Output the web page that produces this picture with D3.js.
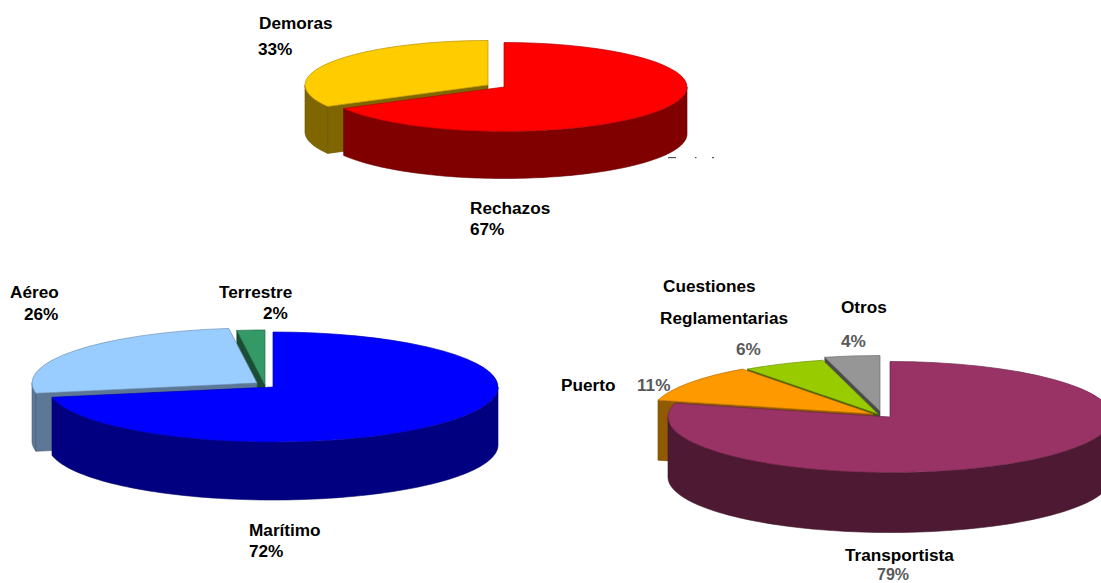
<!DOCTYPE html>
<html lang="es">
<head>
<meta charset="utf-8">
<title>Incidencias por categoría</title>
<script src="https://cdn.jsdelivr.net/npm/d3@7/dist/d3.min.js"></script>
<style>
  html, body { margin: 0; padding: 0; background: #fff; }
  svg { display: block; }
  text { font-family: "Liberation Sans", Arial, sans-serif; font-weight: bold; font-size: 17.2px; fill: #000; }
</style>
</head>
<body>
<svg id="chart" width="1101" height="583"></svg>
<script>
// Values, in percent
const causaNames = ["Rechazos", "Demoras"];
const causaValues = [67, 33];
const modoNames = ["Marítimo", "Aéreo", "Terrestre"];
const modoValues = [72, 26, 2];
const origenNames = ["Transportista", "Puerto", "Cuestiones Reglamentarias", "Otros"];
const origenValues = [79, 11, 6, 4];

// Fill colours: top face, then shaded side
const causaTops = ["#ff0000", "#ffcc00"];
const causaSides = ["#800000", "#806600"];
const modoTops = ["#0000ff", "#99ccff", "#339966"];
const modoSides = ["#000080", "#5c7896", "#1a4d33"];
const origenTops = ["#993366", "#ff9900", "#99cc00", "#969696"];
const origenSides = ["#4d1933", "#8f5a00", "#3f5a12", "#4b4b4b"];

// Pie geometry: radii, extrusion depth and the exploded centre of each slice
const causaGeom = { rx: 183, ry: 44.5, depth: 47, centers: [[504, 87], [488, 85]] };
const modoGeom = { rx: 225, ry: 55, depth: 58, centers: [[273, 387], [257, 383], [265, 385]] };
const origenGeom = { rx: 222, ry: 55.5, depth: 60, centers: [[890, 417], [873, 414], [878, 414], [880, 411]] };

const svg = d3.select("#chart");
const pie = d3.pie().sort(null).value(d => d);

// Point on the ellipse for a clockwise-from-top angle
const onRim = (g, c, a, dz = 0) => [c[0] + g.rx * Math.sin(a), c[1] - g.ry * Math.cos(a) + dz];

function drawPie(values, tops, sides, geom, order) {
  const arcs = pie(values);
  const group = svg.append("g");
  const topArc = d3.arc().innerRadius(0).outerRadius(geom.rx);
  // Back slices first so nearer slices cover their hidden faces
  order.forEach(i => {
    const s = arcs[i], c = geom.centers[i];
    const slice = group.append("g");

    // Curved outer wall: only the half of the rim facing the viewer shows
    const a0 = Math.max(s.startAngle, Math.PI / 2);
    const a1 = Math.min(s.endAngle, 3 * Math.PI / 2);
    if (a1 > a0) {
      const p = d3.path();
      const n = 96;
      const steps = d3.range(n + 1).map(k => a0 + (a1 - a0) * k / n);
      steps.forEach((a, k) => {
        const [x, y] = onRim(geom, c, a);
        k ? p.lineTo(x, y) : p.moveTo(x, y);
      });
      steps.slice().reverse().forEach(a => {
        const [x, y] = onRim(geom, c, a, geom.depth);
        p.lineTo(x, y);
      });
      p.closePath();
      slice.append("path").attr("d", p.toString())
        .attr("fill", sides[i]).attr("stroke", d3.color(sides[i]).darker(0.6)).attr("stroke-width", 0.6);
    }

    // Flat cut face along the slice's leading edge
    if (Math.sin(s.startAngle) < 0) {
      const e = onRim(geom, c, s.startAngle);
      const p = d3.path();
      p.moveTo(c[0], c[1]);
      p.lineTo(e[0], e[1]);
      p.lineTo(e[0], e[1] + geom.depth);
      p.lineTo(c[0], c[1] + geom.depth);
      p.closePath();
      slice.append("path").attr("d", p.toString())
        .attr("fill", sides[i]).attr("stroke", d3.color(sides[i]).darker(0.6)).attr("stroke-width", 0.6);
    }

    // Top face: a circular arc flattened into an ellipse
    slice.append("path")
      .attr("d", topArc(s))
      .attr("transform", `translate(${c[0]},${c[1]}) scale(1,${geom.ry / geom.rx})`)
      .attr("fill", tops[i])
      .attr("stroke", d3.color(tops[i]).darker(0.9))
      .attr("stroke-width", 0.7)
      .attr("vector-effect", "non-scaling-stroke");
  });
}

drawPie(causaValues, causaTops, causaSides, causaGeom, [1, 0]);
drawPie(modoValues, modoTops, modoSides, modoGeom, [2, 1, 0]);
drawPie(origenValues, origenTops, origenSides, origenGeom, [3, 2, 1, 0]);

// Small specks left of a masked caption beside the first pie
svg.append("g").attr("fill", "#555")
  .selectAll("rect")
  .data([[668, 8], [695, 1.5], [712, 2]])
  .join("rect")
  .attr("x", d => d[0]).attr("y", 157).attr("width", d => d[1]).attr("height", 1.2);

const pct = v => v + "%";
const label = (text, x, y, fill) =>
  svg.append("text").attr("x", x).attr("y", y).style("fill", fill || null).text(text);

// First pie
label(causaNames[1], 259, 29);
label(pct(causaValues[1]), 258, 55);
label(causaNames[0], 470, 214);
label(pct(causaValues[0]), 470, 235);

// Second pie
label(modoNames[1], 10, 298);
label(pct(modoValues[1]), 24, 320);
label(modoNames[2], 219, 298);
label(pct(modoValues[2]), 263, 319);
label(modoNames[0], 249, 536);
label(pct(modoValues[0]), 249, 557);

// Third pie
const [cuestiones, reglamentarias] = origenNames[2].split(" ");
label(cuestiones, 663, 292);
label(reglamentarias, 660, 324);
label(origenNames[3], 841, 313);
label(origenNames[1], 561, 391);
label(pct(origenValues[2]), 736, 355, "#595959");
label(pct(origenValues[3]), 841, 347, "#595959");
label(pct(origenValues[1]), 637, 391, "#595959");
label(origenNames[0], 845, 561);
label(pct(origenValues[0]), 877, 579.5, "#595959").style("font-size", "16px");
</script>
</body>
</html>
